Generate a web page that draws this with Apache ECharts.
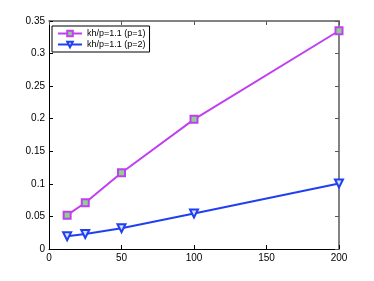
<!DOCTYPE html>
<html><head><meta charset="utf-8">
<script src="https://cdn.jsdelivr.net/npm/echarts@6/dist/echarts.min.js"></script>
<style>html,body{margin:0;padding:0;background:#fff}#c{width:374px;height:281px}</style>
</head><body><div id="c"></div>
<script>
const xValues = [12.5, 25, 50, 100, 200];
const seriesP1 = [0.052, 0.071, 0.117, 0.199, 0.335];
const seriesP2 = [0.0195, 0.023, 0.032, 0.0545, 0.1005];
const seriesNames = ['kh/p=1.1 (p=1)', 'kh/p=1.1 (p=2)'];

const chart = echarts.init(document.getElementById('c'), null, {renderer: 'canvas'});
const font = 'Liberation Sans, Arial, sans-serif';
chart.setOption({
  animation: false,
  grid: {left: 49, right: 35, top: 21, bottom: 32},
  legend: {
    left: 52, top: 26, orient: 'vertical',
    data: seriesNames,
    itemWidth: 24, itemHeight: 7, itemGap: 2,
    padding: [3, 4, 3, 5],
    borderColor: '#000', borderWidth: 1, backgroundColor: '#fff',
    textStyle: {fontSize: 9, fontFamily: font, color: '#000'}
  },
  xAxis: [
    {type: 'value', min: 0, max: 200, interval: 50, position: 'bottom',
      axisLine: {show: true, onZero: false, lineStyle: {color: '#000', width: 1}},
      axisTick: {show: true, inside: true, length: 4, lineStyle: {color: '#000'}},
      splitLine: {show: false},
      axisLabel: {color: '#000', fontSize: 10, fontFamily: font, margin: 4}},
    {type: 'value', min: 0, max: 200, interval: 50, position: 'top',
      axisLine: {show: true, onZero: false, lineStyle: {color: '#5a5a5a', width: 1.5}},
      axisTick: {show: true, inside: true, length: 4},
      axisLabel: {show: true, formatter: () => ''}, splitLine: {show: false}}
  ],
  yAxis: [
    {type: 'value', min: 0, max: 0.35, interval: 0.05, position: 'left',
      axisLine: {show: true, onZero: false, lineStyle: {color: '#000', width: 1}},
      axisTick: {show: true, inside: true, length: 4, lineStyle: {color: '#000'}},
      splitLine: {show: false},
      axisLabel: {color: '#000', fontSize: 10, fontFamily: font, margin: 4}},
    {type: 'value', min: 0, max: 0.35, interval: 0.05, position: 'right',
      axisLine: {show: true, onZero: false, lineStyle: {color: '#5a5a5a', width: 1.5}},
      axisTick: {show: true, inside: true, length: 4},
      axisLabel: {show: true, formatter: () => ''}, splitLine: {show: false}}
  ],
  series: [
    {name: seriesNames[0], type: 'line', data: xValues.map((x, i) => [x, seriesP1[i]]),
      symbol: 'rect', symbolSize: 7,
      lineStyle: {color: '#c040f0', width: 2},
      itemStyle: {color: '#8ed08e', borderColor: '#c040f0', borderWidth: 2}},
    {name: seriesNames[1], type: 'line', data: xValues.map((x, i) => [x, seriesP2[i]]),
      symbol: 'triangle', symbolRotate: 180, symbolSize: 8,
      lineStyle: {color: '#2040f0', width: 2},
      itemStyle: {color: '#d8e0ff', borderColor: '#2040f0', borderWidth: 2}}
  ]
});
</script></body></html>
